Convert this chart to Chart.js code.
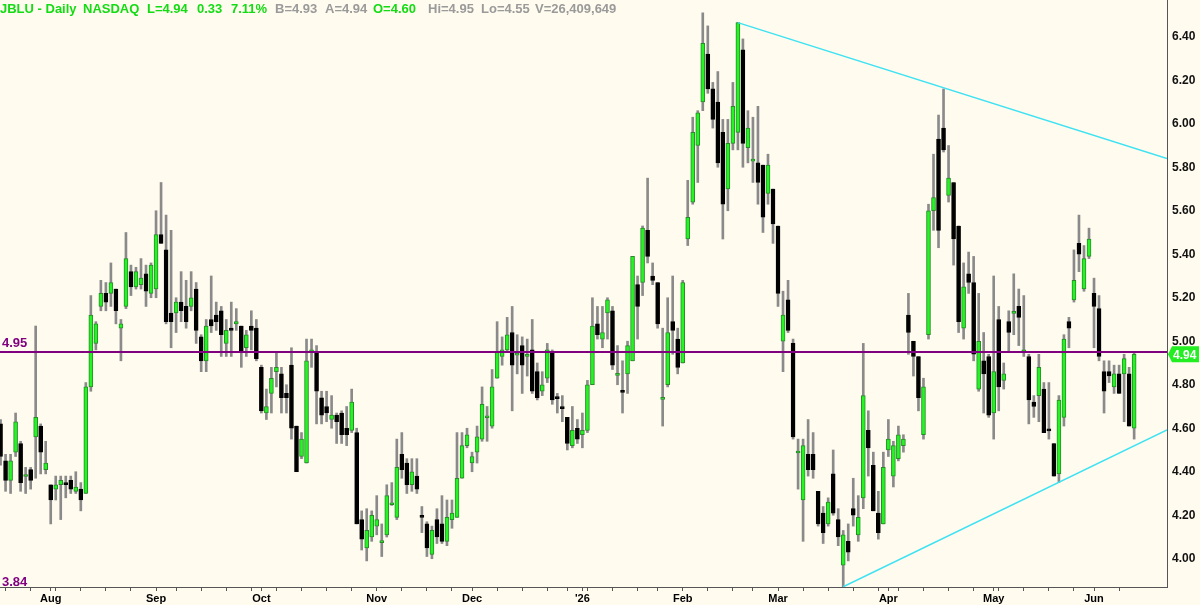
<!DOCTYPE html>
<html lang="en">
<head>
    <meta charset="UTF-8">
    <title>JBLU - Daily</title>
    <script src="https://cdn.jsdelivr.net/npm/chart.js@4.4.1/dist/chart.umd.min.js"></script>
    <style>
        body { margin: 0; background: #fffbef; overflow: hidden; }
        #wrap { position: relative; width: 1200px; height: 605px; }
        #chart { position: absolute; left: 0; top: 0; }
        #head { position: absolute; left: 0; top: 1px; width: 700px; height: 16px; z-index: 2;
                font: bold 13px "Liberation Sans", Arial, sans-serif; white-space: nowrap; }
        #head span { position: absolute; top: 0; }
        .g { color: #14dc14; }
        .n { color: #9a9a9a; }
    </style>
</head>
<body>
<div id="wrap">
    <canvas id="chart" width="1200" height="605"></canvas>
    <div id="head">
        <span class="g" style="left:0px">JBLU - Daily</span>
        <span class="g" style="left:83px">NASDAQ</span>
        <span class="g" style="left:147px">L=4.94</span>
        <span class="g" style="left:197px">0.33</span>
        <span class="g" style="left:231px">7.11%</span>
        <span class="n" style="left:275px">B=4.93</span>
        <span class="n" style="left:325px">A=4.94</span>
        <span class="g" style="left:373px">O=4.60</span>
        <span class="n" style="left:428px">Hi=4.95</span>
        <span class="n" style="left:481px">Lo=4.55</span>
        <span class="n" style="left:535px">V=26,409,649</span>
    </div>
</div>
<script>
// daily candles, one per trading day (index 0 = Jul 18, last = Jun 11)
const opens = [
    4.62, 4.45, 4.36, 4.49, 4.53, 4.378, 4.41, 4.56, 4.61, 4.41,
    4.34, 4.32, 4.34, 4.35, 4.36, 4.31, 4.32, 4.30, 4.79, 4.99,
    5.16, 5.22, 5.22, 5.24, 5.06, 5.16, 5.32, 5.25, 5.26, 5.31,
    5.22, 5.24, 5.49, 5.42, 5.13, 5.13, 5.18, 5.16, 5.16, 5.24,
    5.02, 4.91, 5.10, 5.12, 5.14, 4.99, 5.06, 5.08, 5.07, 4.97,
    5.07, 5.06, 4.88, 4.67, 4.76, 4.86, 4.85, 4.76, 4.89, 4.61,
    4.47, 4.44, 4.95, 4.95, 4.74, 4.70, 4.64, 4.66, 4.67, 4.60,
    4.59, 4.58, 4.18, 4.05, 4.10, 4.15, 4.074, 4.11, 4.248, 4.19,
    4.48, 4.44, 4.34, 4.38, 4.197, 4.16, 4.02, 4.18, 4.16, 4.08,
    4.18, 4.19, 4.37, 4.52, 4.44, 4.49, 4.55, 4.648, 4.61, 4.83,
    4.93, 4.96, 5.04, 4.936, 4.98, 4.93, 4.96, 4.86, 4.77, 4.83,
    4.95, 4.74, 4.697, 4.65, 4.52, 4.60, 4.57, 4.59, 4.80, 5.08,
    5.01, 5.13, 5.14, 4.843, 4.77, 4.85, 4.91, 5.26, 5.27, 5.51,
    5.30, 5.27, 4.733, 4.80, 5.09, 5.01, 4.90, 5.47, 5.64, 5.90,
    6.10, 6.32, 6.16, 6.10, 5.96, 5.70, 5.91, 5.96, 6.34, 5.89,
    5.828, 5.82, 5.81, 5.68, 5.70, 5.53, 5.00, 5.19, 4.99, 4.486,
    4.27, 4.48, 4.48, 4.31, 4.21, 4.16, 4.39, 4.18, 3.97, 4.08,
    4.23, 4.11, 4.28, 4.59, 4.43, 4.21, 4.16, 4.50, 4.38, 4.46,
    4.52, 5.12, 5.00, 4.93, 4.57, 5.03, 5.60, 5.93, 5.98, 5.67,
    5.73, 5.53, 5.06, 5.31, 5.27, 4.78, 4.91, 4.93, 4.67, 5.10,
    4.82, 5.09, 5.128, 5.16, 4.95, 4.93, 4.72, 4.75, 4.78, 4.592,
    4.53, 4.39, 4.65, 5.09, 5.19, 5.45, 5.24, 5.39, 5.22, 5.15,
    4.86, 4.86, 4.79, 4.85, 4.85, 4.85, 4.60
];
const highs = [
    4.64, 4.48, 4.48, 4.67, 4.54, 4.42, 4.42, 5.07, 4.62, 4.54,
    4.34, 4.38, 4.38, 4.38, 4.38, 4.40, 4.35, 4.81, 5.21, 5.09,
    5.28, 5.27, 5.36, 5.24, 5.10, 5.50, 5.35, 5.34, 5.38, 5.35,
    5.36, 5.60, 5.73, 5.58, 5.51, 5.20, 5.32, 5.28, 5.32, 5.27,
    5.03, 5.10, 5.30, 5.18, 5.16, 5.10, 5.18, 5.15, 5.07, 5.05,
    5.14, 5.10, 4.89, 4.78, 4.88, 4.95, 4.88, 4.80, 4.97, 4.61,
    4.58, 5.01, 5.01, 4.98, 4.77, 4.77, 4.75, 4.67, 4.68, 4.70,
    4.78, 4.60, 4.22, 4.23, 4.22, 4.29, 4.16, 4.34, 4.35, 4.55,
    4.58, 4.46, 4.46, 4.46, 4.24, 4.17, 4.15, 4.23, 4.29, 4.27,
    4.27, 4.58, 4.58, 4.60, 4.49, 4.61, 4.79, 4.70, 4.87, 5.09,
    5.02, 5.11, 5.16, 5.03, 5.02, 5.01, 5.10, 4.90, 4.86, 4.99,
    4.96, 4.76, 4.75, 4.65, 4.70, 4.64, 4.67, 4.82, 5.20, 5.16,
    5.16, 5.20, 5.16, 4.98, 4.91, 5.00, 5.39, 5.30, 5.53, 5.75,
    5.36, 5.27, 5.06, 5.20, 5.30, 5.06, 5.28, 5.74, 6.03, 6.06,
    6.51, 6.45, 6.19, 6.24, 6.02, 6.02, 6.19, 6.465, 6.39, 6.06,
    6.03, 6.08, 5.81, 5.86, 5.70, 5.53, 5.23, 5.28, 5.01, 4.55,
    4.55, 4.64, 4.58, 4.31, 4.24, 4.28, 4.50, 4.23, 4.13, 4.16,
    4.37, 4.29, 4.99, 4.68, 4.49, 4.31, 4.49, 4.64, 4.54, 4.61,
    4.57, 5.22, 5.00, 4.93, 4.83, 5.63, 5.86, 6.04, 6.16, 5.90,
    5.73, 5.53, 5.36, 5.41, 5.39, 5.22, 5.04, 4.94, 5.30, 5.16,
    4.90, 5.14, 5.31, 5.24, 5.21, 4.94, 4.75, 4.94, 4.81, 4.81,
    4.53, 4.75, 5.03, 5.11, 5.42, 5.58, 5.44, 5.52, 5.29, 5.21,
    4.91, 4.91, 4.89, 4.89, 4.94, 4.88, 4.95
];
const lows = [
    4.43, 4.31, 4.30, 4.47, 4.31, 4.30, 4.32, 4.37, 4.39, 4.39,
    4.16, 4.27, 4.18, 4.28, 4.30, 4.30, 4.22, 4.30, 4.77, 4.96,
    5.14, 5.14, 5.16, 5.08, 4.91, 5.15, 5.21, 5.24, 5.24, 5.16,
    5.20, 5.20, 5.45, 5.08, 4.97, 5.04, 5.09, 5.06, 5.14, 4.99,
    4.86, 4.86, 5.04, 5.05, 4.93, 4.93, 4.93, 5.05, 4.88, 4.93,
    4.96, 4.91, 4.67, 4.64, 4.67, 4.79, 4.67, 4.67, 4.55, 4.40,
    4.46, 4.44, 4.88, 4.62, 4.62, 4.63, 4.60, 4.53, 4.53, 4.52,
    4.58, 4.16, 4.04, 3.99, 4.08, 4.11, 4.01, 4.10, 4.245, 4.18,
    4.37, 4.30, 4.31, 4.30, 4.12, 4.01, 4.00, 4.07, 4.07, 4.06,
    4.14, 4.19, 4.37, 4.51, 4.40, 4.44, 4.54, 4.54, 4.60, 4.83,
    4.89, 4.95, 4.68, 4.85, 4.76, 4.84, 4.76, 4.73, 4.75, 4.81,
    4.71, 4.67, 4.63, 4.50, 4.51, 4.53, 4.51, 4.58, 4.80, 5.01,
    4.97, 5.01, 4.87, 4.80, 4.67, 4.76, 4.91, 5.01, 5.21, 5.36,
    5.26, 5.06, 4.61, 4.79, 4.94, 4.85, 4.90, 5.44, 5.63, 5.73,
    6.06, 6.14, 5.98, 5.80, 5.47, 5.60, 5.88, 5.88, 5.80, 5.82,
    5.73, 5.63, 5.50, 5.63, 5.45, 5.16, 4.86, 5.04, 4.55, 4.32,
    4.08, 4.38, 4.37, 4.15, 4.07, 4.15, 4.20, 4.06, 3.871, 3.99,
    4.15, 4.08, 4.23, 4.38, 4.22, 4.09, 4.16, 4.47, 4.33, 4.45,
    4.49, 4.94, 4.84, 4.68, 4.55, 5.01, 5.51, 5.43, 5.87, 5.64,
    5.35, 5.04, 5.01, 5.22, 4.91, 4.77, 4.67, 4.65, 4.55, 4.68,
    4.78, 4.95, 5.03, 4.98, 4.93, 4.62, 4.65, 4.63, 4.58, 4.55,
    4.38, 4.35, 4.61, 4.97, 5.18, 5.32, 5.23, 5.38, 4.97, 4.91,
    4.67, 4.81, 4.76, 4.76, 4.63, 4.61, 4.55
];
const closes = [
    4.47, 4.36, 4.45, 4.63, 4.35, 4.382, 4.36, 4.65, 4.49, 4.44,
    4.27, 4.34, 4.36, 4.34, 4.32, 4.33, 4.27, 4.79, 5.12, 5.08,
    5.22, 5.18, 5.27, 5.14, 5.08, 5.38, 5.25, 5.32, 5.29, 5.23,
    5.35, 5.49, 5.45, 5.09, 5.09, 5.18, 5.14, 5.09, 5.20, 5.05,
    4.91, 5.07, 5.07, 5.09, 5.03, 5.05, 5.05, 5.09, 4.95, 5.03,
    5.05, 4.92, 4.68, 4.70, 4.83, 4.88, 4.74, 4.74, 4.60, 4.40,
    4.55, 4.91, 4.96, 4.77, 4.66, 4.67, 4.66, 4.63, 4.57, 4.57,
    4.72, 4.16, 4.09, 4.13, 4.20, 4.18, 4.083, 4.29, 4.252, 4.42,
    4.41, 4.34, 4.40, 4.32, 4.19, 4.05, 4.13, 4.10, 4.08, 4.19,
    4.21, 4.37, 4.52, 4.57, 4.47, 4.56, 4.71, 4.651, 4.79, 4.95,
    4.96, 5.03, 4.89, 4.944, 4.89, 4.94, 4.77, 4.74, 4.80, 4.96,
    4.73, 4.736, 4.69, 4.53, 4.59, 4.55, 4.59, 4.80, 5.07, 5.03,
    5.04, 5.19, 4.89, 4.847, 4.765, 4.98, 5.39, 5.16, 5.52, 5.39,
    5.28, 5.08, 4.737, 5.04, 5.05, 4.88, 5.27, 5.57, 5.96, 6.05,
    6.37, 6.16, 6.02, 5.82, 5.63, 5.91, 6.08, 6.465, 5.91, 5.98,
    5.833, 5.73, 5.57, 5.81, 5.54, 5.22, 5.12, 5.05, 4.56, 4.49,
    4.52, 4.41, 4.41, 4.16, 4.12, 4.26, 4.21, 4.10, 4.11, 4.03,
    4.20, 4.19, 4.75, 4.51, 4.22, 4.12, 4.42, 4.55, 4.52, 4.57,
    4.55, 5.04, 4.93, 4.74, 4.79, 5.60, 5.66, 5.51, 5.88, 5.75,
    5.47, 5.09, 5.25, 5.27, 4.94, 5.00, 4.85, 4.66, 4.86, 4.79,
    4.85, 5.04, 5.132, 5.11, 4.96, 4.73, 4.70, 4.88, 4.58, 4.588,
    4.38, 4.73, 5.01, 5.06, 5.28, 5.40, 5.38, 5.47, 5.16, 4.93,
    4.77, 4.84, 4.85, 4.76, 4.92, 4.61, 4.94
];

// x axis: month starts and Monday ticks (trading-day index)
const monthIdx = [10, 31, 52, 75, 94, 116, 136, 155, 177, 198, 218];
const monthLabels = ['Aug', 'Sep', 'Oct', 'Nov', 'Dec', "'26", 'Feb', 'Mar', 'Apr', 'May', 'Jun'];
const weekIdx = [1, 6, 11, 16, 21, 26, 35, 40, 45, 50, 55, 60, 65, 70, 80, 85, 90, 99, 104, 109,
                 113, 117, 122, 127, 131, 141, 146, 150, 160, 165, 170, 175, 179, 184, 189, 194,
                 199, 204, 209, 214, 223];
const xMin = -0.11, xMax = 232.55;

// y axis
const yTicks = [4.0, 4.2, 4.4, 4.6, 4.8, 5.0, 5.2, 5.4, 5.6, 5.8, 6.0, 6.2, 6.4];
const yMin = 3.870, yMax = 6.569;

// drawn lines
const refLine = 4.95;
const lowLabel = '3.84';
const trendUpX = [147, 232.55], trendUpY = [6.465, 5.84];
const trendDnX = [168, 232.55], trendDnY = [3.871, 4.592];

const FONT = '"Liberation Sans", Arial, sans-serif';
Chart.defaults.font.family = FONT;

const idx = opens.map((_, i) => i);
const up = closes.map((c, i) => c >= opens[i]);
const allTicks = weekIdx.concat(monthIdx).sort((a, b) => a - b);

const priceLabels = {
    id: 'priceLabels',
    afterDraw(chart) {
        const { ctx, chartArea, scales: { y } } = chart;
        ctx.save();
        ctx.font = 'bold 13px ' + FONT;
        ctx.fillStyle = '#800080';
        ctx.textAlign = 'left';
        ctx.textBaseline = 'alphabetic';
        ctx.fillText(refLine.toFixed(2), 2, y.getPixelForValue(refLine) - 5);
        ctx.fillText(lowLabel, 2, chartArea.bottom - 1);

        // last price tag on the axis
        const last = closes[closes.length - 1];
        const yc = y.getPixelForValue(last);
        const x0 = chartArea.right + 1;
        ctx.fillStyle = '#22ee22';
        ctx.beginPath();
        ctx.moveTo(x0, yc);
        ctx.lineTo(x0 + 4, yc - 8);
        ctx.lineTo(chart.width - 1, yc - 8);
        ctx.lineTo(chart.width - 1, yc + 8);
        ctx.lineTo(x0 + 4, yc + 8);
        ctx.closePath();
        ctx.fill();
        ctx.fillStyle = '#ffffff';
        ctx.font = 'bold 12px ' + FONT;
        ctx.textBaseline = 'middle';
        ctx.fillText(last.toFixed(2), x0 + 5, yc + 1);
        ctx.restore();
    }
};

const ctx = document.getElementById('chart').getContext('2d');
const chart = new Chart(ctx, {
    type: 'bar',
    data: {
        datasets: [
            {
                type: 'line',
                data: [{ x: xMin, y: refLine }, { x: xMax, y: refLine }],
                borderColor: '#800080', borderWidth: 2, pointRadius: 0, order: 0
            },
            {
                type: 'line',
                data: trendUpX.map((x, i) => ({ x, y: trendUpY[i] })),
                borderColor: '#3ee2f2', borderWidth: 1.5, pointRadius: 0, order: 0
            },
            {
                type: 'line',
                data: trendDnX.map((x, i) => ({ x, y: trendDnY[i] })),
                borderColor: '#3ee2f2', borderWidth: 1.5, pointRadius: 0, order: 0
            },
            {
                // bodies
                data: idx.map(i => ({ x: i, y: [opens[i], closes[i]] })),
                backgroundColor: up.map(u => u ? '#22f522' : '#000000'),
                borderColor: up.map(u => u ? '#2a8a2a' : '#000000'),
                borderWidth: 1, borderSkipped: false,
                barThickness: 4, minBarLength: 2, grouped: false, order: 1
            },
            {
                // wicks
                data: idx.map(i => ({ x: i, y: [lows[i], highs[i]] })),
                backgroundColor: '#8a8a8a',
                barThickness: 2, grouped: false, order: 2
            }
        ]
    },
    options: {
        responsive: false,
        animation: false,
        layout: { padding: 0 },
        plugins: { legend: { display: false }, tooltip: { enabled: false } },
        scales: {
            x: {
                type: 'linear', min: xMin, max: xMax, offset: false,
                afterBuildTicks: a => { a.ticks = allTicks.map(v => ({ value: v })); },
                afterFit: a => { a.height = 18; a.paddingLeft = 0; a.paddingRight = 0; },
                grid: { drawOnChartArea: false, offset: false, tickLength: 4, color: '#555' },
                border: { color: '#555', width: 1 },
                ticks: {
                    autoSkip: false, maxRotation: 0, padding: 1, color: '#000',
                    font: { size: 11, weight: 'bold' },
                    callback: v => { const k = monthIdx.indexOf(v); return k >= 0 ? monthLabels[k] : ''; }
                }
            },
            y: {
                type: 'linear', position: 'right', min: yMin, max: yMax,
                afterBuildTicks: a => { a.ticks = yTicks.map(v => ({ value: v })); },
                afterFit: a => { a.width = 33; a.paddingTop = 0; a.paddingBottom = 0; },
                grid: { drawOnChartArea: false, drawTicks: false },
                border: { color: '#555', width: 1 },
                ticks: {
                    padding: 5, color: '#111',
                    font: { size: 12, weight: 'bold' },
                    callback: v => v.toFixed(2)
                }
            }
        }
    },
    plugins: [priceLabels]
});
</script>
</body>
</html>
